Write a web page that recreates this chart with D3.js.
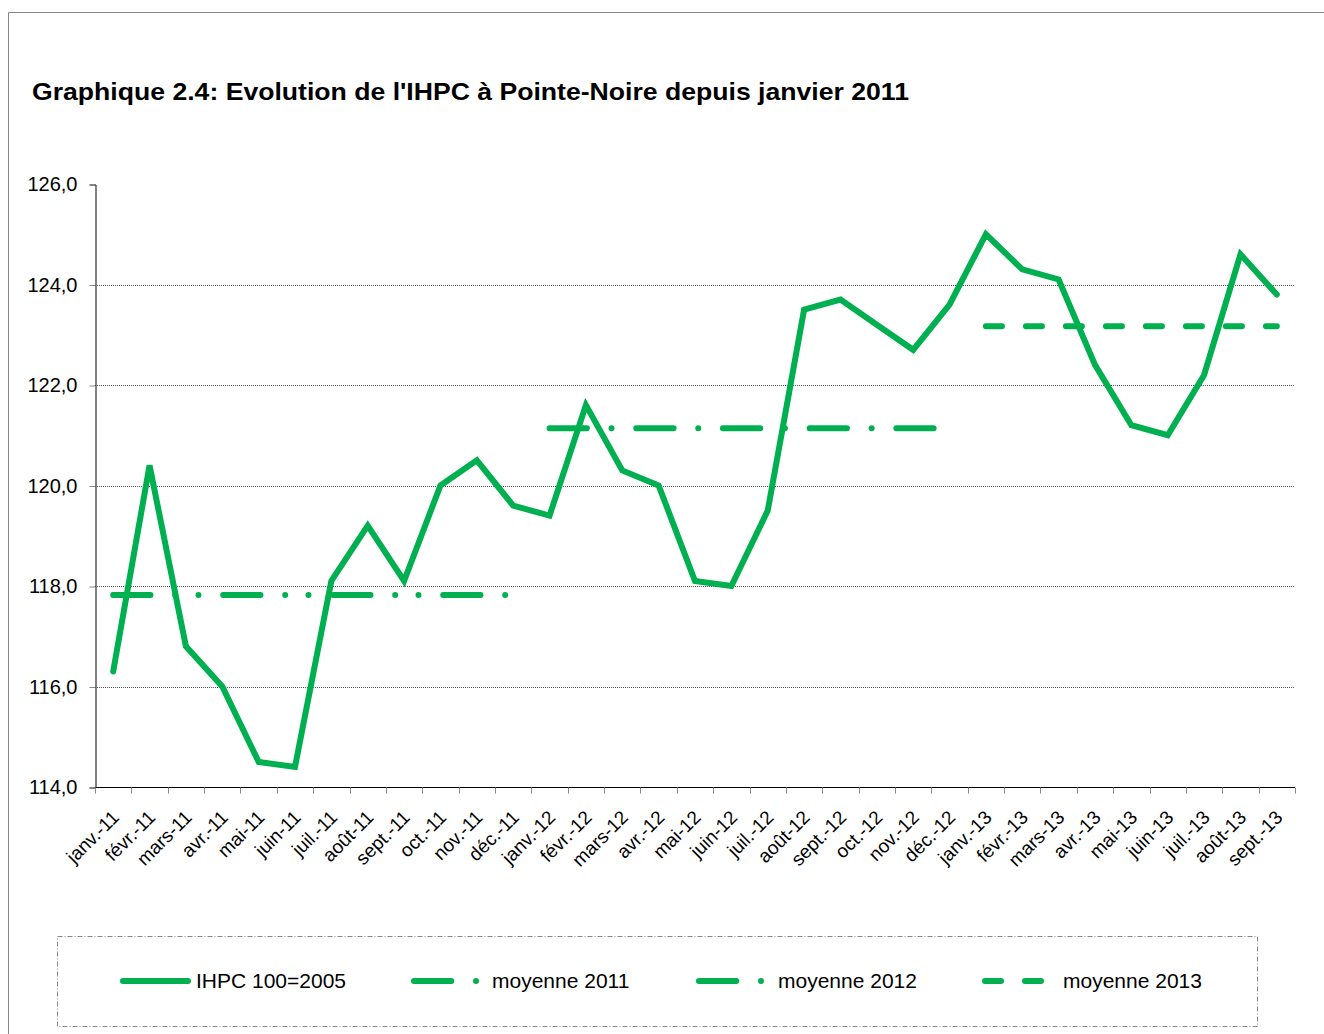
<!DOCTYPE html>
<html><head><meta charset="utf-8">
<script src="https://cdn.jsdelivr.net/npm/d3@7"></script>
<style>
body{margin:0;background:#fff;}
text{font-family:"Liberation Sans",Arial,sans-serif;}
</style></head>
<body>
<svg id="chart" width="1324" height="1034"></svg>
<script>
const categories = ["janv.-11","févr.-11","mars-11","avr.-11","mai-11","juin-11","juil.-11","août-11","sept.-11","oct.-11","nov.-11","déc.-11",
"janv.-12","févr.-12","mars-12","avr.-12","mai-12","juin-12","juil.-12","août-12","sept.-12","oct.-12","nov.-12","déc.-12",
"janv.-13","févr.-13","mars-13","avr.-13","mai-13","juin-13","juil.-13","août-13","sept.-13"];
const ihpc = [116.3,120.4,116.8,116.0,114.5,114.4,118.1,119.2,118.1,120.0,120.5,119.6,
119.4,121.6,120.3,120.0,118.1,118.0,119.5,123.5,123.7,123.2,122.7,123.6,
125.0,124.3,124.1,122.4,121.2,121.0,122.2,124.6,123.8];
const moyenne2011 = {from:"janv.-11", to:"déc.-11", value:117.82};
const moyenne2012 = {from:"janv.-12", to:"déc.-12", value:121.14};
const moyenne2013 = {from:"janv.-13", to:"sept.-13", value:123.17};
const yTicks = [114,116,118,120,122,124,126];
const seriesNames = ["IHPC 100=2005","moyenne 2011","moyenne 2012","moyenne 2013"];
const title = "Graphique 2.4: Evolution de l'IHPC à Pointe-Noire depuis janvier 2011";

const green = "#00B050";
const dash2011 = "37.3,24.7,0,23.3,0,24.7";
const dash2012 = "37.3,24.7,0,24.7";
const dash2013 = "16,24";

const svg = d3.select("#chart");
// outer frame
svg.append("path").attr("d","M8.5,1034 L8.5,12.5 L1324,12.5").attr("fill","none").attr("stroke","#888").attr("stroke-width",1);

svg.append("text").attr("x",32).attr("y",100).attr("font-size",24).attr("font-weight","bold").attr("fill","#000")
  .attr("textLength",877).attr("lengthAdjust","spacingAndGlyphs").text(title);

const x = d3.scaleBand().domain(categories).range([95,1295]).padding(0);
const y = d3.scaleLinear().domain([114,126]).range([787,184]);
const cx = c => x(c) + x.bandwidth()/2;

// gridlines
svg.append("g").selectAll("line").data(yTicks.filter(t=>t>114 && t<126)).join("line")
  .attr("x1",95).attr("x2",1295).attr("y1",d=>Math.round(y(d))+0.5).attr("y2",d=>Math.round(y(d))+0.5)
  .attr("stroke","#555").attr("stroke-width",1).attr("stroke-dasharray","1,1");

// y axis
const yAxis = d3.axisLeft(y).tickValues(yTicks).tickSize(6).tickPadding(12)
  .tickFormat(d=>d3.format(".1f")(d).replace(".",","));
const gy = svg.append("g").attr("transform","translate(95.5,0.5)").call(yAxis);
gy.select(".domain").attr("stroke","#000");
gy.selectAll(".tick line").attr("stroke","#888");
gy.selectAll(".tick text").attr("font-size",20).attr("fill","#000").attr("font-family","Liberation Sans, Arial, sans-serif");

// x axis
const xAxis = d3.axisBottom(x).tickSize(0).tickPadding(0);
const gx = svg.append("g").attr("transform","translate(0,787.5)").call(xAxis);
gx.select(".domain").attr("stroke","#000").attr("d","M95,0H1295");
// boundary ticks
gx.append("g").selectAll("line").data(d3.range(categories.length+1)).join("line")
  .attr("x1",i=>Math.round(95+i*x.bandwidth())+0.5).attr("x2",i=>Math.round(95+i*x.bandwidth())+0.5)
  .attr("y1",0).attr("y2",6).attr("stroke","#888");
gx.selectAll(".tick text")
  .attr("font-size",19).attr("fill","#000").attr("font-family","Liberation Sans, Arial, sans-serif")
  .attr("text-anchor","end").attr("dy",0)
  .attr("transform","translate(7,31) rotate(-45)");

// mean lines
function meanLine(m, dash){
  svg.append("line").attr("x1",cx(m.from)).attr("x2",cx(m.to)).attr("y1",y(m.value)).attr("y2",y(m.value))
    .attr("stroke",green).attr("stroke-width",6).attr("stroke-linecap","round").attr("stroke-dasharray",dash);
}
meanLine(moyenne2011,dash2011);
meanLine(moyenne2012,dash2012);
meanLine(moyenne2013,dash2013);

// IHPC line
const line = d3.line().x((d,i)=>cx(categories[i])).y(d=>y(d));
svg.append("path").datum(ihpc).attr("d",line).attr("fill","none").attr("stroke",green)
  .attr("stroke-width",6).attr("stroke-linejoin","miter").attr("stroke-linecap","round");

// legend
svg.append("rect").attr("x",57.5).attr("y",936.5).attr("width",1200).attr("height",90)
  .attr("fill","none").attr("stroke","#888").attr("stroke-width",1).attr("stroke-dasharray","5,2,1,2");
const legendItems = [
  {name:seriesNames[0], x1:123, x2:188, dash:null, tx:196},
  {name:seriesNames[1], x1:414, x2:477, dash:dash2012, tx:492},
  {name:seriesNames[2], x1:699, x2:762, dash:dash2012, tx:778},
  {name:seriesNames[3], x1:985, x2:1041, dash:dash2013, tx:1063}
];
const lg = svg.append("g");
legendItems.forEach(it=>{
  lg.append("line").attr("x1",it.x1).attr("x2",it.x2).attr("y1",981).attr("y2",981)
    .attr("stroke",green).attr("stroke-width",6).attr("stroke-linecap","round")
    .attr("stroke-dasharray",it.dash);
  lg.append("text").attr("x",it.tx).attr("y",988).attr("font-size",21).attr("fill","#000").text(it.name);
});
</script>
</body></html>
